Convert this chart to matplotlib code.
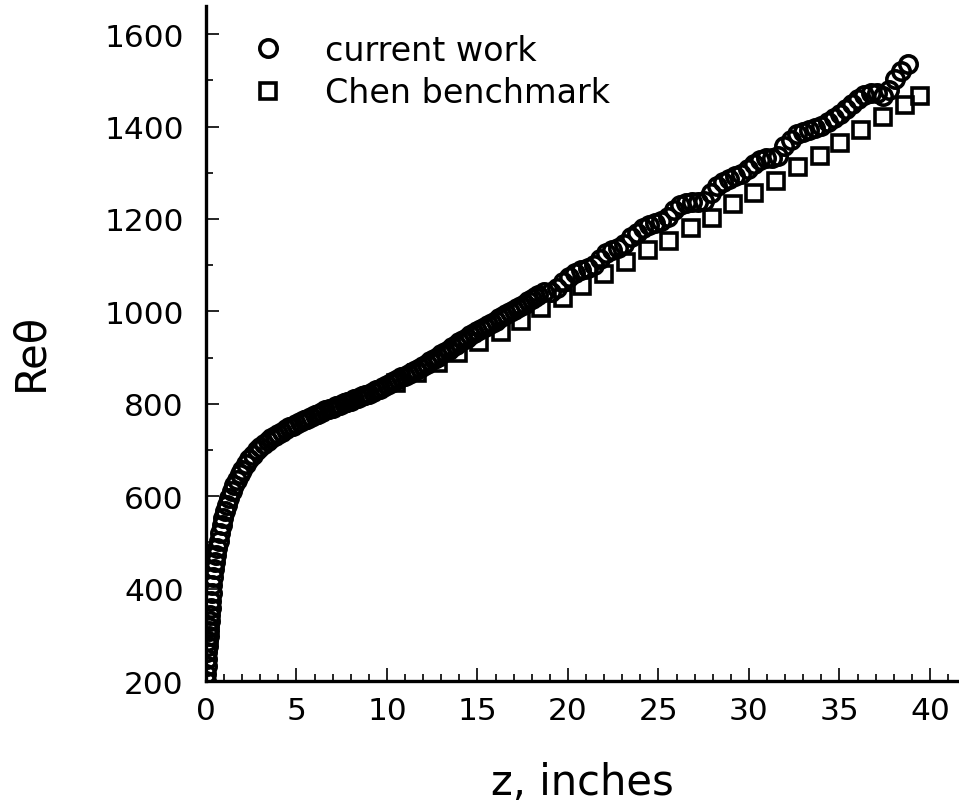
# Re_theta vs z: current work vs Chen benchmark
import matplotlib
matplotlib.use("Agg")
import matplotlib.pyplot as plt
from matplotlib.ticker import MultipleLocator

# current work (circles)
z_cur = [0.00, 0.02, 0.04, 0.06, 0.08, 0.10, 0.12, 0.14, 0.16, 0.18,
         0.20, 0.22, 0.25, 0.28, 0.31, 0.35, 0.40, 0.45, 0.50, 0.56,
         0.63, 0.70, 0.78, 0.86, 0.95, 1.05, 1.16, 1.28, 1.41, 1.55,
         1.70, 1.86,
         2.0, 2.2, 2.4, 2.6, 2.8, 3.0, 3.2, 3.4, 3.6, 3.8,
         4.0, 4.2, 4.4, 4.6, 4.8, 5.0, 5.2, 5.4, 5.6, 5.8,
         6.0, 6.2, 6.4, 6.6, 6.8, 7.0, 7.2, 7.4, 7.6, 7.8,
         8.0, 8.2, 8.4, 8.6, 8.8, 9.0, 9.2, 9.4, 9.6, 9.8,
         10.0, 10.2, 10.4, 10.6, 10.8, 11.0, 11.2, 11.4, 11.6, 11.8,
         12.0, 12.2, 12.4, 12.6, 12.8, 13.0, 13.2, 13.4, 13.6, 13.8,
         14.0, 14.2, 14.4, 14.6, 14.8, 15.0, 15.2, 15.4, 15.6, 15.8,
         16.0, 16.2, 16.4, 16.6, 16.8, 17.0, 17.2, 17.4, 17.6, 17.8,
         18.0, 18.2,
         18.36, 18.70, 19.04, 19.38, 19.72, 20.06,
         20.40, 20.74, 21.08, 21.42, 21.76, 22.10, 22.44, 22.78, 23.12, 23.46,
         23.80, 24.14, 24.48, 24.82, 25.16, 25.50, 25.84, 26.18, 26.52, 26.86,
         27.20, 27.54, 27.88, 28.22, 28.56, 28.90, 29.24, 29.58, 29.92, 30.26,
         30.60, 30.94, 31.28, 31.62, 31.96, 32.30, 32.64, 32.98, 33.32, 33.66,
         34.00, 34.34, 34.68, 35.02, 35.36, 35.70, 36.04, 36.38, 36.72, 37.06,
         37.40, 37.74, 38.08, 38.42, 38.76]
re_cur = [200, 215, 232, 248, 262, 275, 287, 298, 308, 318,
          330, 342, 358, 374, 390, 408, 425, 442, 457, 472,
          488, 504, 521, 537, 552, 567, 582, 597, 611, 624,
          636, 648,
          657, 669, 680, 690, 699, 706, 713, 719, 725, 730,
          735, 740, 745, 749, 753, 757, 761, 765, 768, 772,
          775, 779, 782, 786, 789, 792, 795, 798, 801, 804,
          807, 810, 813, 816, 819, 822, 825, 829, 833, 836,
          840, 844, 849, 853, 857, 861, 865, 869, 873, 877,
          882, 887, 892, 897, 902, 907, 912, 917, 923, 928,
          933, 938, 943, 948, 953, 958, 962, 966, 970, 975,
          980, 985, 990, 995, 999, 1003, 1007, 1012, 1017, 1022,
          1027, 1032,
          1035, 1041, 1043, 1050, 1063, 1074,
          1083, 1090, 1093, 1100, 1113, 1126, 1132, 1137, 1146, 1160,
          1170, 1180, 1188, 1192, 1196, 1204, 1220, 1230, 1235, 1237,
          1236, 1240, 1256, 1271, 1281, 1287, 1292, 1298, 1308, 1318,
          1327, 1333, 1331, 1337, 1357, 1372, 1384, 1389, 1392, 1396,
          1402, 1410, 1419, 1428, 1438, 1449, 1459, 1468, 1473, 1472,
          1466, 1480, 1502, 1520, 1535]

# Chen benchmark (squares)
z_chen = [10.5, 11.65, 12.8, 13.95, 15.1, 16.3, 17.4, 18.5,
          19.7, 20.8, 22.0, 23.2, 24.4, 25.6, 26.8, 27.95, 29.1, 30.3,
          31.5, 32.7, 33.9, 35.05, 36.2, 37.4, 38.6, 39.45]
re_chen = [844, 866, 888, 910, 933, 955, 980, 1008,
           1030, 1055, 1080, 1106, 1132, 1153, 1180, 1203, 1232, 1256,
           1283, 1312, 1337, 1364, 1392, 1421, 1446, 1467]

fig = plt.figure(figsize=(9.59, 8.04), dpi=100)
ax = fig.add_axes([0.2148, 0.1517, 0.7842, 0.8396])

ax.plot(z_cur, re_cur, ls="none", marker="o", ms=12.5, mfc="none",
        mec="black", mew=2.6, label="current work")
ax.plot(z_chen, re_chen, ls="none", marker="s", ms=11.5, mfc="none",
        mec="black", mew=2.6, label="Chen benchmark")

ax.set_xlim(0, 41.55)
ax.set_ylim(200, 1661)

# only left and bottom axis lines, ticks pointing inside
ax.spines["top"].set_visible(False)
ax.spines["right"].set_visible(False)
ax.spines["left"].set_linewidth(2.4)
ax.spines["bottom"].set_linewidth(2.4)
ax.xaxis.set_major_locator(MultipleLocator(5))
ax.xaxis.set_minor_locator(MultipleLocator(1))
ax.yaxis.set_major_locator(MultipleLocator(200))
ax.yaxis.set_minor_locator(MultipleLocator(100))
ax.tick_params(which="both", direction="in", width=1.2, labelsize=22.5)
ax.tick_params(which="major", length=9.4)
ax.tick_params(which="minor", length=5)
ax.tick_params(axis="y", pad=16)
ax.tick_params(axis="x", pad=11)

ax.set_xlabel("z, inches", fontsize=30)
ax.set_ylabel("Reθ", fontsize=30)
ax.xaxis.set_label_coords(0.5, -0.118)
ax.yaxis.set_label_coords(-0.205, 0.489)

ax.legend(loc="upper left", bbox_to_anchor=(0.0386, 0.9585), frameon=False,
          fontsize=24, numpoints=1, handlelength=2.0, handletextpad=0.7,
          labelspacing=0.28, borderpad=0, borderaxespad=0)

fig.savefig("out.png", dpi=100)
